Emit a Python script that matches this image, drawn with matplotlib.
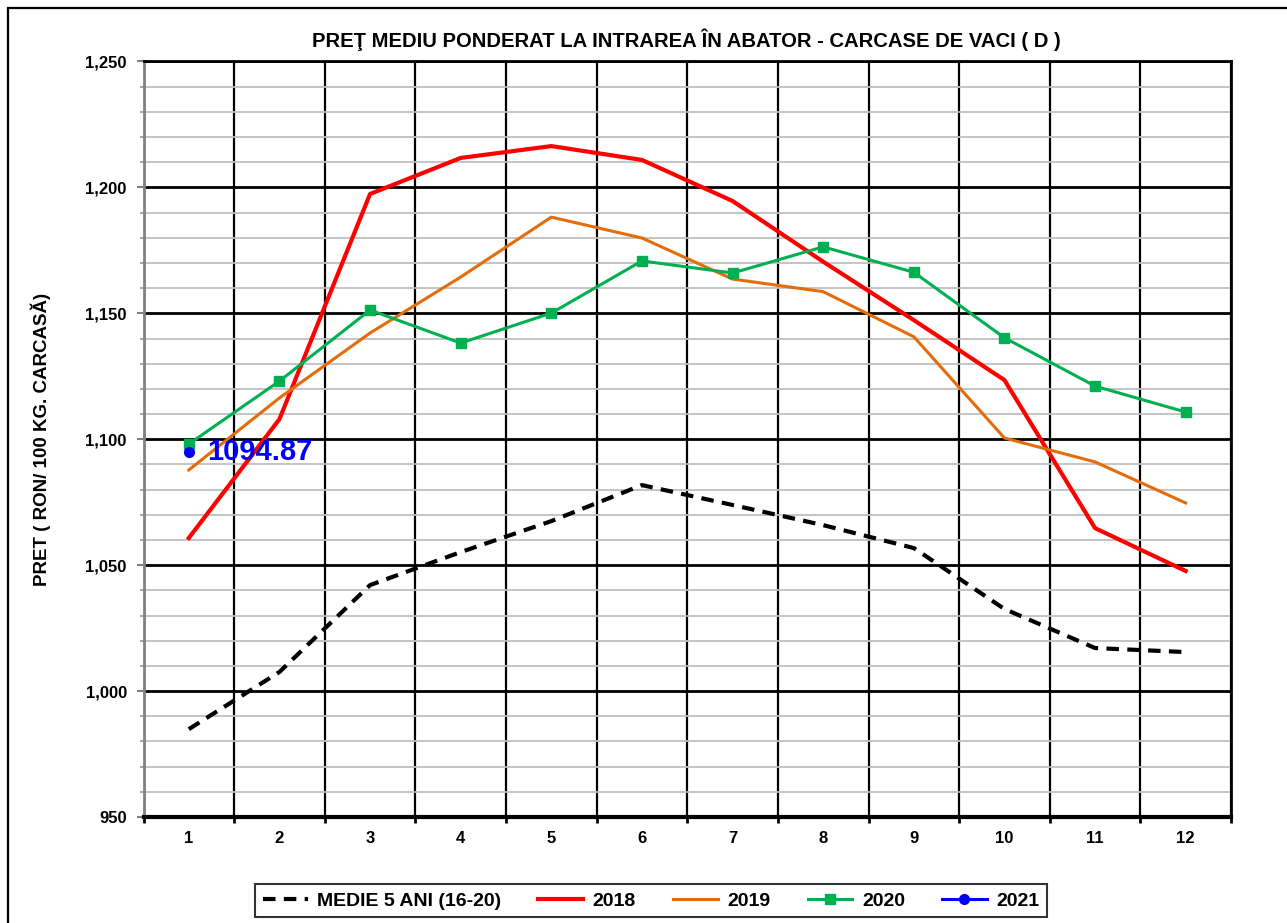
import matplotlib
matplotlib.use("Agg")
from matplotlib import pyplot as plt
from matplotlib.ticker import FuncFormatter, MultipleLocator, FixedLocator
from matplotlib.patches import Rectangle

plt.rcParams['font.family'] = ['Liberation Sans', 'DejaVu Sans']

# data
months = [1, 2, 3, 4, 5, 6, 7, 8, 9, 10, 11, 12]
medie_5ani = [984.9, 1007.6, 1042.1, 1055.2, 1067.5, 1081.8, 1073.9, 1065.9, 1056.8, 1032.6, 1017.1, 1015.5]
y2018 = [1060.8, 1108.0, 1197.4, 1211.7, 1216.4, 1210.9, 1194.6, 1170.5, 1147.3, 1123.5, 1064.7, 1047.7]
y2019 = [1087.8, 1116.4, 1142.2, 1164.4, 1188.2, 1179.9, 1163.6, 1158.6, 1140.7, 1100.5, 1091.0, 1074.7]
y2020 = [1098.1, 1123.1, 1151.3, 1138.2, 1150.1, 1170.8, 1166.0, 1176.4, 1166.3, 1140.3, 1121.1, 1110.8]
months_2021 = [1]
y2021 = [1094.87]

fig = plt.figure(figsize=(12.87, 9.23), dpi=100)
ax = fig.add_axes([0.1115, 0.1148, 0.845, 0.8186])

# outer chart border (runs off the image at right/bottom)
fig.patches.append(Rectangle((8 / 1287, -0.05), 1.2, 1 - 8 / 923 + 0.05,
                             transform=fig.transFigure, fill=False,
                             edgecolor='black', linewidth=1.6, zorder=0))

ax.plot(months, medie_5ani, color='black', linestyle=(0, (3, 2)), linewidth=3,
        label='MEDIE 5 ANI (16-20)', zorder=3)
ax.plot(months, y2018, color='#ff0000', linewidth=3, label='2018', zorder=3)
ax.plot(months, y2019, color='#e46c0a', linewidth=2.2, label='2019', zorder=3)
ax.plot(months, y2020, color='#00b050', linewidth=2.2, marker='s', markersize=7,
        label='2020', zorder=4)
ax.plot(months_2021, y2021, color='#0000ff', linewidth=2.2, marker='o', markersize=7,
        label='2021', zorder=5)

ax.annotate(f"{y2021[0]:.2f}", (months_2021[0], y2021[0]), xytext=(13, 0),
            textcoords='offset points', va='center', ha='left',
            color='#0000ff', fontsize=21, fontweight='bold', zorder=6)

ax.set_xlim(0.5, 12.5)
ax.set_ylim(950, 1250)

# y grid
ax.yaxis.set_major_locator(MultipleLocator(50))
ax.yaxis.set_minor_locator(MultipleLocator(10))
ax.yaxis.set_major_formatter(FuncFormatter(lambda v, p: f"{v:,.0f}"))
ax.grid(which='major', axis='y', color='black', linewidth=2)
ax.grid(which='minor', axis='y', color='#bfbfbf', linewidth=1.3)

# x grid at category boundaries
ax.xaxis.set_major_locator(FixedLocator(months))
ax.xaxis.set_minor_locator(FixedLocator([m + 0.5 for m in range(0, 13)]))
ax.grid(which='minor', axis='x', color='black', linewidth=1.6)
ax.set_axisbelow(True)

ax.tick_params(axis='x', which='major', length=0, pad=10, labelsize=12)
ax.tick_params(axis='x', which='minor', length=4, width=2, direction='out')
ax.tick_params(axis='y', which='major', length=5, width=1.5, color='#808080', labelsize=12, pad=7)
ax.tick_params(axis='y', which='minor', length=3, width=1.3, color='#a0a0a0')
for lab in ax.get_xticklabels() + ax.get_yticklabels():
    lab.set_fontweight('bold')

for s in ['top', 'right']:
    ax.spines[s].set_linewidth(2)
    ax.spines[s].set_color('black')
ax.spines['bottom'].set_linewidth(3)
ax.spines['left'].set_linewidth(2)
ax.spines['left'].set_color('#808080')

ax.set_ylabel("PRET ( RON/ 100 KG. CARCASĂ)", fontsize=13.5, fontweight='bold')
ax.yaxis.set_label_coords(-0.085, 0.5)
fig.text(0.533, 0.9567, "PREŢ MEDIU PONDERAT LA INTRAREA ÎN ABATOR - CARCASE DE VACI ( D )",
         ha='center', va='center', fontsize=14.6, fontweight='bold')

leg = fig.legend(loc='center', bbox_to_anchor=(0.506, 0.024), ncol=5, frameon=True,
                 fancybox=False, edgecolor='black', handlelength=2.3, columnspacing=1.9,
                 prop={'weight': 'bold', 'size': 14},
                 borderpad=0.4, handletextpad=0.5, borderaxespad=0)
leg.get_frame().set_linewidth(1.5)

fig.savefig("out.png", dpi=100)
